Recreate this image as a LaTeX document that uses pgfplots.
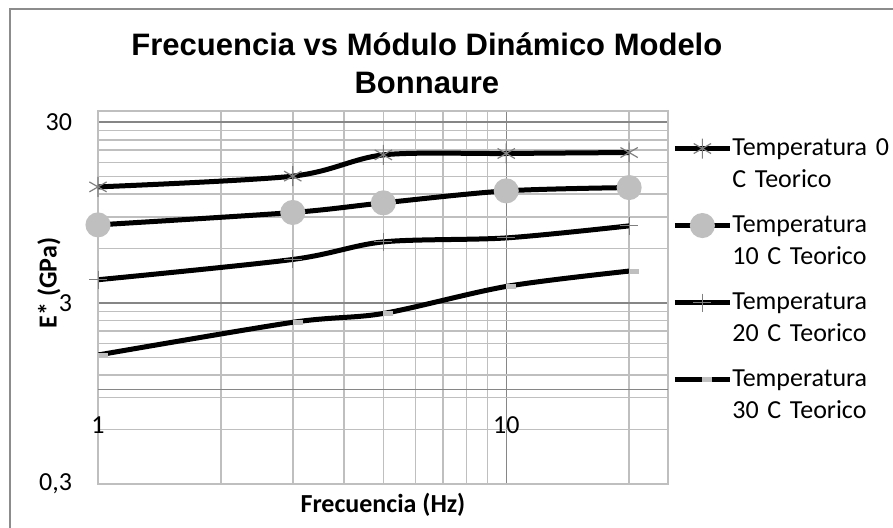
\documentclass[border=0pt]{standalone}
\usepackage{pgfplots}
\pgfplotsset{compat=1.18}
\usepackage{fontspec}
\setmainfont{Carlito}
\newfontfamily\titlefont{Liberation Sans}
\definecolor{gmin}{HTML}{BFBFBF}
\definecolor{gmaj}{HTML}{868686}
\definecolor{mk}{HTML}{7F7F7F}
\definecolor{lt}{HTML}{BFBFBF}
\definecolor{frame}{HTML}{8C8C8C}
\begin{document}
\fontsize{13pt}{16pt}\selectfont
\begin{tikzpicture}
\useasboundingbox (-49pt,-21.5pt) rectangle (397.5pt,242pt);
\draw[frame, line width=0.9pt] (-44pt,-30pt) -- (-44pt,237.5pt) -- (420pt,237.5pt);
\begin{axis}[
  at={(0pt,0pt)}, anchor=south west,
  scale only axis, width=285pt, height=186.5pt,
  xmode=log, ymode=log,
  xmin=1, xmax=24.9, ymin=0.3, ymax=34.6,
  xtick={1,10}, xticklabels={1,10},
  minor xtick={2,3,4,5,6,7,8,9,20},
  ytick={0.3,3,30}, yticklabels={{0,3},3,30},
  minor ytick={0.6,0.9,1.2,1.5,1.8,2.1,2.4,2.7,6,9,12,15,18,21,24,27},
  extra y ticks={1}, extra y tick labels={},
  extra y tick style={grid=major, major grid style={gmaj, line width=0.9pt}},
  grid=both,
  major grid style={gmaj, line width=0.75pt},
  minor grid style={gmin, line width=0.75pt},
  major tick length=0pt, minor tick length=0pt,
  axis line style={gmin, line width=0.75pt},
  xticklabel style={anchor=center, yshift=29.5pt},
  yticklabel style={anchor=east, xshift=-8.5pt},
  title={Frecuencia vs Módulo Dinámico Modelo\\[1.5pt]Bonnaure},
  title style={at={(axis description cs:0.577,1.0966)}, anchor=center, align=center,
    font=\titlefont\bfseries\fontsize{15.5pt}{17.5pt}\selectfont},
  xlabel={\bfseries Frecuencia (Hz)},
  xlabel style={at={(axis description cs:0.5,-0.056)}, anchor=center},
  ylabel={\bfseries E* (GPa)},
  ylabel style={at={(axis description cs:-0.086,0.539)}, anchor=center},
  legend style={at={(axis description cs:1.007,0.930)}, anchor=north west,
    draw=none, fill=none, inner sep=0pt, row sep=0pt, column sep=0pt,
    nodes={inner sep=0pt, text width=90pt, align=left, text height=9pt, text depth=29.5pt},
    cells={anchor=base west}},
  legend image code/.code={
    \draw[mark repeat=2,mark phase=2,yshift=3.5pt]
      plot coordinates {(0pt,0pt) (13.75pt,0pt) (27.5pt,0pt)};},
  every axis plot/.append style={black, line width=2.5pt, smooth},
]
\addplot[mark=asterisk, mark size=5pt, mark options={mk, line width=0.6pt}]
  coordinates {(1,13.17) (3,15.1) (5,19.8) (10,20.15) (20,20.4)};
\addlegendentry{Temperatura 0\\C Teorico}
\addplot[mark=*, mark size=5pt, mark options={lt, fill=lt, draw=none}]
  coordinates {(1,8.12) (3,9.51) (5,10.75) (10,12.52) (20,13.06)};
\addlegendentry{Temperatura\\10 C Teorico}
\addplot[mark=+, mark size=4.5pt, mark options={mk, line width=0.5pt}]
  coordinates {(1,4.04) (3,5.23) (5,6.54) (10,6.88) (20,8.02)};
\addlegendentry{Temperatura\\20 C Teorico}
\addplot[mark=-, mark size=2.5pt, mark options={lt, line width=2.5pt, xshift=2.5pt}]
  coordinates {(1,1.55) (3,2.35) (5,2.63) (10,3.71) (20,4.51)};
\addlegendentry{Temperatura\\30 C Teorico}
\end{axis}
\end{tikzpicture}
\end{document}
